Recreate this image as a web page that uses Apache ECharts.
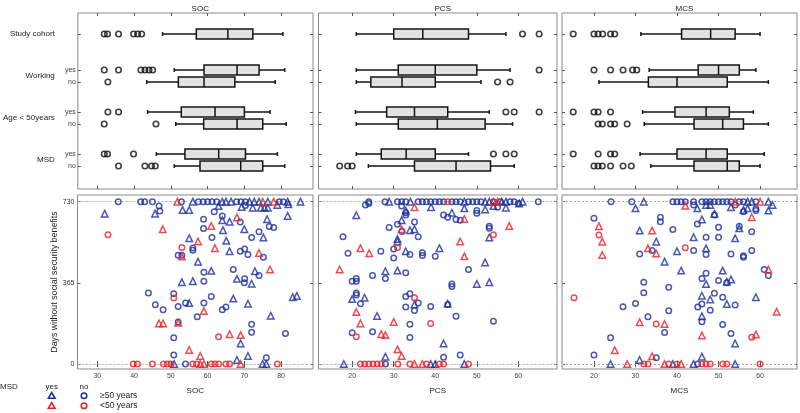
<!DOCTYPE html>
<html><head><meta charset="utf-8">
<script src="https://cdn.jsdelivr.net/npm/echarts/dist/echarts.min.js"></script>
<style>html,body{margin:0;padding:0;background:#fff}#c{width:800px;height:413px}</style>
</head><body><div id="c"></div>
<script>
// ---------------- DATA ----------------
const panelNames = ['SOC', 'PCS', 'MCS'];
const groupLabels = ['Study cohort', 'Working', 'Age < 50years', 'MSD'];
const subLabels = ['yes', 'no'];
const socTicks = [30, 40, 50, 60, 70, 80];
const pcsTicks = [20, 30, 40, 50, 60];
const mcsTicks = [20, 30, 40, 50, 60];
const dayTicks = [0, 365, 730];
const yTitle = 'Days without social security benefits';

// box stats per row: [low whisker, Q1, median, Q3, high whisker]
// rows: cohort, working yes, working no, age<50 yes, age<50 no, MSD yes, MSD no
const socBoxes = [
  [47.7, 56.9, 65.5, 72.3, 80.5],
  [50.9, 59.0, 68.0, 74.0, 81.0],
  [43.4, 52.0, 59.0, 67.4, 78.4],
  [43.6, 52.8, 62.0, 70.0, 77.0],
  [51.3, 58.9, 68.0, 75.0, 81.4],
  [46.0, 53.8, 63.0, 70.3, 79.0],
  [50.9, 57.9, 69.0, 75.0, 81.0]
];
const pcsBoxes = [
  [21.0, 30.0, 37.0, 48.0, 57.0],
  [21.0, 31.1, 40.0, 50.0, 58.0],
  [21.0, 24.5, 32.0, 40.0, 51.0],
  [20.8, 28.3, 35.0, 43.0, 53.0],
  [21.0, 31.1, 40.5, 52.0, 58.6],
  [21.0, 27.0, 33.0, 40.0, 48.0],
  [23.9, 35.0, 45.0, 53.3, 59.0]
];
const mcsBoxes = [
  [31.3, 41.1, 48.1, 54.0, 60.0],
  [33.3, 45.1, 50.0, 55.0, 59.0],
  [21.2, 33.1, 40.0, 52.1, 62.0],
  [31.7, 39.5, 47.0, 52.6, 58.4],
  [32.1, 44.1, 51.0, 56.0, 62.0],
  [31.1, 40.0, 47.0, 52.1, 61.0],
  [33.7, 44.1, 52.1, 55.0, 60.0]
];
const socOutliers = [
  [31.8, 32.7, 35.7, 39.8, 40.9, 42.0],
  [31.8, 35.7, 41.8, 42.9, 44.0, 45.0],
  [32.8],
  [32.8, 35.7],
  [31.8, 45.9],
  [31.8, 32.7, 39.8],
  [35.7, 42.9, 44.7, 45.7]
];
const pcsOutliers = [
  [61, 65], [65], [55, 58], [57, 59, 65], [], [54, 57, 59], [17, 18.9, 20]
];
const mcsOutliers = [
  [15, 20, 21, 22.1, 24, 25],
  [20, 24, 27, 29.3, 30.3],
  [],
  [15, 20, 21, 24],
  [21, 22, 24, 25, 28],
  [15, 21, 24, 25],
  [20, 21, 22, 24, 27, 29]
];

// scatter: [score, days]; tri = MSD yes, cir = MSD no; blue = >=50 years, red = <50 years
const socTriBlue = [[56,730],[64,730],[65,730],[66.4,730],[71.4,730],[72.7,730],[74,730],[76.4,730],[81.8,730],[85.3,730],
  [32,676],[45.7,676],[53.2,693],[55,693],[63,710],[64,647],[66,640],[69.3,706],[72.3,703],[74.5,703],[75.5,703],[76.4,703],
  [79,715],[82,718],[81.8,666],[76.2,651],[70,606],[64.2,602],[65.1,554],[66,507],[75.2,569],[55,566],[57.4,460],[61,419],
  [53,368],[56,372],[68,383],[72,361],[72.9,417],[55,274],[67,294],[71,271],[77.2,217],[69,92],[83.2,300],[84.3,306],
  [71,36],[68,18],[50.9,0],[75,0],[76,0]];
const socCirBlue = [[35.7,730],[41.8,730],[42.9,730],[45,730],[52.9,730],[57.5,730],[58.8,730],[60,730],[61.2,730],[62.5,730],
  [67.9,730],[69.1,730],[70.3,730],[79.5,730],[80.6,730],
  [46.8,710],[47,688],[61.8,685],[64,666],[68.9,639],[58.9,651],[58.9,609],[76.8,618],[78,614],[61.2,569],[70.3,713],
  [52,489],[53,489],[56,522],[56,512],[59,413],[59,372],[67,425],[70.1,383],[70,365],[68.9,507],[70.1,517],[71,492],
  [72,569],[74,595],[75.2,480],[74,398],[43.9,319],[45.8,267],[47.9,244],[50.8,316],[52,259],[54,274],[59,274],[61,304],
  [64,244],[65,256],[57.2,212],[52,189],[72,179],[72,143],[50.8,118],[81.2,137],[50.8,40],[76,28],[54,0]];
const socTriRed = [[51.8,730],[75,730],[78,730],[47.8,606],[53,483],[57.4,551],[61,621],[62,521],[68,659],[74,499],[77,425],
  [59,238],[46.8,182],[47.9,182],[52,185],[66,134],[69,130],[55,63],[58,36],[58,0],[59,0],[69,0]];
const socCirRed = [[32.9,581],[53,524],[50.8,297],[63,122],[39.8,0],[40.9,0],[45,0],[48,0],[49,0],[50,0],[56,0],[57,0],
  [61,0],[62,0],[63,0],[65,0],[66,0],[79,0]];

const pcsTriBlue = [[28.9,730],[34,730],[47,730],[52,730],[53,730],[56,730],[57,730],[61,730],
  [32.9,690],[39,705],[44,680],[47,700],[52,695],[54,710],[57,703],[60.2,722],[21,669],[31.9,647],[33.9,602],[35,606],
  [30.9,562],[30.9,551],[53,569],[32.9,507],[41,521],[52,457],[28,417],[30.9,420],[50,360],[53,368],[20,292],[23,298],
  [35,268],[43,271],[26,216],[42,92],[28,33],[18,0],[38.9,0],[40,0],[47,0]];
const pcsCirBlue = [[24,730],[27.9,730],[30.9,730],[31.9,730],[32.9,730],[35.9,730],[36.9,730],[37.9,730],[38.9,730],[40,730],
  [41,730],[42,730],[44,730],[45,730],[46,730],[48,730],[49,730],[50,730],[51,730],[54,730],[55.6,730],[58,730],[59,730],[64.8,730],
  [23.2,715],[24,722],[31.9,710],[32.9,680],[32.9,670],[42,670],[43,660],[45,650],[46,647],[50,690],[50,678],[55,705],[60,722],
  [30.9,629],[32,596],[35,639],[28.9,614],[17.8,572],[35.9,572],[53,620],[53,610],[19,498],[26.9,507],[30,517],[30,477],
  [33.9,492],[36.9,500],[36.9,488],[40,484],[28,384],[24.9,398],[32.9,410],[48,425],[20,372],[21,372],[21,384],[44,360],
  [44,348],[21,319],[21,310],[22,271],[32.9,304],[33.9,316],[32.9,256],[35.9,274],[35,241],[38.9,259],[43,268],[33.9,179],
  [45,215],[54,192],[20,140],[24.9,145],[33.9,119],[42,30],[46,40],[28,0]];
const pcsTriRed = [[54,730],[55,730],[35,705],[47,652],[31.9,606],[46,551],[57.8,621],[22,521],[24.1,498],[47,484],[17,425],
  [21,234],[22,182],[30,189],[27,134],[28,130],[30.9,66],[31.9,36],[35,0],[36.9,0]];
const pcsCirRed = [[43,730],[54,581],[30.9,524],[35,298],[38.9,182],[21,122],[22,0],[23,0],[24,0],[25,0],[26,0],[27,0],
  [31,0],[33.9,0],[37.9,0],[41,0],[42,0],[48,0]];

const mcsTriBlue = [[32,730],[57,730],[58,730],[62,730],
  [30,700],[44.9,700],[47,715],[48,715],[53,705],[56,693],[57,700],[62,690],[63,715],[49,675],[46,650],[31,600],[35,550],
  [44,570],[54,565],[55,610],[40,507],[47,520],[37,460],[41,420],[51,420],[53,380],[52,370],[47,360],[46,307],[48,290],
  [52,270],[59,300],[46,215],[54,92],[31,18],[46,33],[24,0],[39,0],[44,0],[54,0]];
const mcsCirBlue = [[24.1,730],[29.1,730],[39,730],[40,730],[41,730],[42,730],[44,730],[46,730],[47,730],[48,730],[49,730],
  [50,730],[51,730],[52,730],[53,730],[55,730],[56,730],[59,730],
  [44,715],[54,715],[56,685],[59,698],[59,690],[49,670],[44.9,630],[20,655],[36,660],[36,640],[39,605],[47,570],[50,615],
  [50,570],[55,620],[58,595],[31,495],[34,510],[44,510],[47,492],[53,495],[56,487],[56,480],[58,510],[47,408],[46,385],
  [61,425],[62,398],[52,365],[50,375],[32,368],[32,320],[38,345],[27,258],[30,272],[49,318],[51,300],[46,270],[45,256],
  [54,265],[38,240],[48,242],[33,212],[37,142],[46,190],[51,178],[53,137],[24,118],[20,40],[35,28],[45,0]];
const mcsTriRed = [[54,730],[60,730],[42,712],[58,660],[21.2,620],[22,550],[22,490],[34,600],[33,520],[35,497],[62,425],
  [64,235],[31,188],[37,180],[46,128],[59,133],[25,62],[34,35],[28,0],[37,0],[41,0]];
const mcsCirRed = [[21.2,580],[42,523],[15.2,298],[35,180],[58,120],[32,0],[33,0],[38,0],[40,0],[46,0],[47,0],[48,0],
  [51,0],[52,0],[60,0]];

// legend texts
const legendTitle = 'MSD';
const legendCols = ['yes', 'no'];
const legendRows = ['\u226550 years', '<50 years'];

// ---------------- LAYOUT / STYLE ----------------
const FONT = 'Liberation Sans, Arial, Helvetica, sans-serif';
const BLUE = '#1a2f9f', RED = '#e6202a';
const FRAME = '#8a8a8a', TICK = '#555';
const panelLeft = [77.5, 318.5, 562];
const panelWidth = [235.5, 238.5, 235];
const xExtent = [[24.6, 88.7], [11.9, 69.3], [12.3, 68.9]];
const topBox = { top: 13, height: 176 };
const botBox = { top: 195, height: 174 };
const rowPos = [1, 1.857, 2.143, 2.857, 3.143, 3.857, 4.143];
const groupPos = [1, 2, 3, 4];

const ticksList = [socTicks, pcsTicks, mcsTicks];
const boxesList = [socBoxes, pcsBoxes, mcsBoxes];
const outList = [socOutliers, pcsOutliers, mcsOutliers];
const scatList = [
  [socTriBlue, socCirBlue, socTriRed, socCirRed],
  [pcsTriBlue, pcsCirBlue, pcsTriRed, pcsCirRed],
  [mcsTriBlue, mcsCirBlue, mcsTriRed, mcsCirRed]
];

const grid = [], xAxis = [], yAxis = [], series = [], title = [];

function nearestIdx(arr, v) {
  let b = 0;
  arr.forEach((a, i) => { if (Math.abs(a - v) < Math.abs(arr[b] - v)) b = i; });
  return b;
}

function xAx(g, pos, p, showLabel, name) {
  return {
    type: 'value', gridIndex: g, position: pos, min: xExtent[p][0], max: xExtent[p][1],
    axisLine: { show: false }, splitLine: { show: false },
    axisTick: { show: true, inside: true, length: 3, customValues: ticksList[p], lineStyle: { color: TICK, width: 1 } },
    axisLabel: { show: showLabel, customValues: ticksList[p], fontSize: 7, color: '#444', margin: 4, fontFamily: FONT },
    name: name || '', nameLocation: 'middle', nameGap: 18,
    nameTextStyle: { fontSize: 8, color: '#222', fontFamily: FONT }
  };
}

for (let p = 0; p < 3; p++) {
  const gT = grid.length;
  grid.push({ left: panelLeft[p], width: panelWidth[p], top: topBox.top, height: topBox.height, show: true, borderColor: FRAME, borderWidth: 1, backgroundColor: 'transparent' });
  const xT = xAxis.length;
  xAxis.push(xAx(gT, 'bottom', p, false));
  xAxis.push(xAx(gT, 'top', p, false));
  const yT = yAxis.length;
  yAxis.push({
    type: 'value', gridIndex: gT, position: 'left', inverse: true, min: 0.5, max: 4.69,
    axisLine: { show: false }, splitLine: { show: false },
    axisTick: { show: true, inside: true, length: 3, customValues: rowPos, lineStyle: { color: TICK } },
    axisLabel: {
      show: p === 0, customValues: rowPos.slice(1), margin: 2, fontSize: 7, color: '#444', fontFamily: FONT,
      formatter: v => subLabels[(nearestIdx(rowPos, v) - 1) % 2]
    }
  });
  yAxis.push({
    type: 'value', gridIndex: gT, position: 'right', inverse: true, min: 0.5, max: 4.69,
    axisLine: { show: false }, splitLine: { show: false },
    axisTick: { show: true, inside: true, length: 3, customValues: rowPos, lineStyle: { color: TICK } },
    axisLabel: { show: false }
  });
  if (p === 0) {
    yAxis.push({
      type: 'value', gridIndex: gT, position: 'left', inverse: true, min: 0.5, max: 4.69,
      axisLine: { show: false }, splitLine: { show: false }, axisTick: { show: false },
      axisLabel: {
        show: true, customValues: groupPos, margin: 23, fontSize: 8, color: '#222', fontFamily: FONT,
        formatter: v => groupLabels[nearestIdx(groupPos, v)]
      }
    });
  }
  title.push({
    text: panelNames[p], left: panelLeft[p] + panelWidth[p] / 2, top: 0, textAlign: 'center',
    textStyle: { fontSize: 8, fontWeight: 'normal', color: '#222', fontFamily: FONT }
  });

  const boxData = boxesList[p].map((b, i) => [rowPos[i]].concat(b));
  series.push({
    type: 'custom', xAxisIndex: xT, yAxisIndex: yT, data: boxData,
    encode: { x: [1, 2, 3, 4, 5], y: 0 }, silent: true, clip: false,
    renderItem: function (params, api) {
      const y = api.value(0);
      const pts = [1, 2, 3, 4, 5].map(k => api.coord([api.value(k), y]));
      const cy = pts[0][1], h = 4.9, c = 1.9;
      const st = { stroke: '#141414', lineWidth: 1.5, fill: null };
      return {
        type: 'group', children: [
          { type: 'line', shape: { x1: pts[0][0], y1: cy, x2: pts[1][0], y2: cy }, style: st },
          { type: 'line', shape: { x1: pts[3][0], y1: cy, x2: pts[4][0], y2: cy }, style: st },
          { type: 'line', shape: { x1: pts[0][0], y1: cy - c, x2: pts[0][0], y2: cy + c }, style: st },
          { type: 'line', shape: { x1: pts[4][0], y1: cy - c, x2: pts[4][0], y2: cy + c }, style: st },
          { type: 'rect', shape: { x: pts[1][0], y: cy - h, width: pts[3][0] - pts[1][0], height: 2 * h }, style: { fill: '#e2e2e2', stroke: '#141414', lineWidth: 1.5 } },
          { type: 'line', shape: { x1: pts[2][0], y1: cy - h, x2: pts[2][0], y2: cy + h }, style: st }
        ]
      };
    }
  });
  const outData = [];
  outList[p].forEach((arr, i) => arr.forEach(v => outData.push([v, rowPos[i]])));
  series.push({
    type: 'scatter', xAxisIndex: xT, yAxisIndex: yT, data: outData, silent: true,
    symbol: 'circle', symbolSize: 5.5,
    itemStyle: { color: 'rgba(0,0,0,0)', borderColor: '#111', borderWidth: 1.6 }
  });
}

for (let p = 0; p < 3; p++) {
  const gB = grid.length;
  grid.push({ left: panelLeft[p], width: panelWidth[p], top: botBox.top, height: botBox.height, show: true, borderColor: FRAME, borderWidth: 1, backgroundColor: 'transparent' });
  const xB = xAxis.length;
  xAxis.push(xAx(gB, 'bottom', p, true, panelNames[p]));
  xAxis.push(xAx(gB, 'top', p, false));
  const yB = yAxis.length;
  yAxis.push({
    type: 'value', gridIndex: gB, position: 'left', min: -22.5, max: 760,
    axisLine: { show: false }, splitLine: { show: false },
    axisTick: { show: true, inside: true, length: 3, customValues: dayTicks, lineStyle: { color: TICK } },
    axisLabel: { show: p === 0, customValues: dayTicks, margin: 3, fontSize: 7, color: '#333', fontFamily: FONT },
    name: p === 0 ? yTitle : '', nameLocation: 'middle', nameGap: 14, nameRotate: 90,
    nameTextStyle: { fontSize: 8.8, color: '#222', fontFamily: FONT }
  });
  yAxis.push({
    type: 'value', gridIndex: gB, position: 'right', min: -22.5, max: 760,
    axisLine: { show: false }, splitLine: { show: false },
    axisTick: { show: true, inside: true, length: 3, customValues: dayTicks, lineStyle: { color: TICK } },
    axisLabel: { show: false }
  });
  const defs = [
    { sym: 'triangle', color: BLUE, size: 6.5 },
    { sym: 'circle', color: BLUE, size: 5.5 },
    { sym: 'triangle', color: RED, size: 6.5 },
    { sym: 'circle', color: RED, size: 5.5 }
  ];
  scatList[p].forEach((arr, k) => {
    const s = {
      type: 'scatter', xAxisIndex: xB, yAxisIndex: yB, data: arr, silent: true,
      symbol: defs[k].sym, symbolSize: defs[k].size, z: 3 + k,
      itemStyle: { color: 'rgba(0,0,0,0)', borderColor: defs[k].color, borderWidth: 1.5 }
    };
    if (k === 0) {
      s.markLine = {
        silent: true, symbol: 'none', label: { show: false }, z: 1,
        lineStyle: { type: [2, 2], color: '#aaa', width: 1 },
        data: [{ yAxis: dayTicks[2] }, { yAxis: dayTicks[0] }]
      };
    }
    series.push(s);
  });
}

const lgY = [395.7, 405.7];
const lgX = [51.7, 84];
const lgColors = [BLUE, RED];
const graphic = [
  { type: 'text', x: 0, y: 387, style: { text: legendTitle, fontSize: 8, fontFamily: FONT, fill: '#222', verticalAlign: 'middle' } },
  { type: 'text', x: lgX[0], y: 387, style: { text: legendCols[0], fontSize: 8, fontFamily: FONT, fill: '#222', align: 'center', verticalAlign: 'middle' } },
  { type: 'text', x: lgX[1], y: 387, style: { text: legendCols[1], fontSize: 8, fontFamily: FONT, fill: '#222', align: 'center', verticalAlign: 'middle' } }
];
for (let r = 0; r < 2; r++) {
  const y = lgY[r], x = lgX[0];
  graphic.push({ type: 'polygon', shape: { points: [[x, y - 3.2], [x - 3.4, y + 2.6], [x + 3.4, y + 2.6]] }, style: { fill: 'none', stroke: lgColors[r], lineWidth: 1.5 } });
  graphic.push({ type: 'circle', shape: { cx: lgX[1], cy: y, r: 2.8 }, style: { fill: 'none', stroke: lgColors[r], lineWidth: 1.5 } });
  graphic.push({ type: 'text', x: 100, y: y, style: { text: legendRows[r], fontSize: 8.5, fontFamily: FONT, fill: '#222', verticalAlign: 'middle' } });
}

const chart = echarts.init(document.getElementById('c'), null, { renderer: 'canvas' });
chart.setOption({
  animation: false, backgroundColor: '#fff',
  textStyle: { fontFamily: FONT },
  title, grid, xAxis, yAxis, series, graphic
});
</script></body></html>
